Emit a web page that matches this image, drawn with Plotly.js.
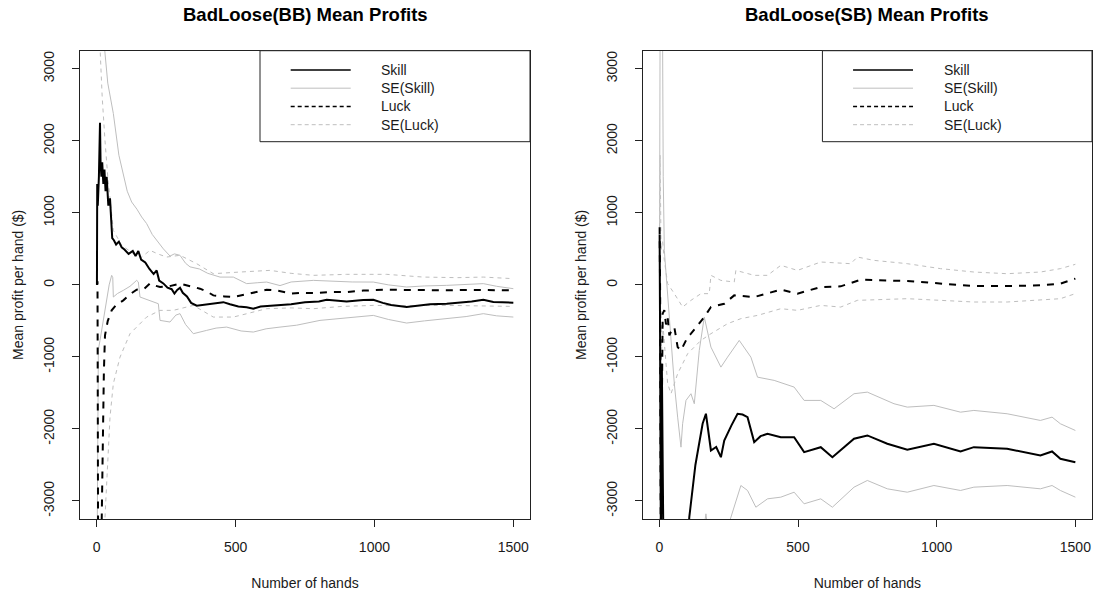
<!DOCTYPE html>
<html>
<head>
<meta charset="utf-8">
<script src="https://cdn.plot.ly/plotly-3.0.1.min.js"></script>
<style>html,body{margin:0;padding:0;background:#fff;}#chart{width:1096px;height:598px;}</style>
</head>
<body>
<div id="chart"></div>
<script>
// ---------- BadLoose(BB) ----------
var bbSkillHands = [1,2,4,8,12,14,17,20,24,28,32,36,42,48,52,56,62,70,80,90,100,115,130,140,150,160,175,190,205,216,225,240,255,270,280,290,300,310,325,340,360,380,400,430,456,480,510,540,564,590,620,660,700,750,800,828,860,900,960,996,1030,1060,1116,1150,1200,1260,1300,1350,1392,1428,1460,1500];
var bbSkill = [0,1400,1100,1500,2250,1700,1500,1700,1400,1600,1300,1500,1100,1200,800,650,620,560,600,520,490,430,470,400,470,350,310,220,150,200,60,20,-40,-60,-120,-70,-40,-110,-160,-250,-290,-280,-270,-250,-240,-270,-300,-310,-330,-300,-290,-285,-270,-240,-230,-206,-220,-230,-210,-206,-250,-280,-308,-290,-270,-261,-250,-230,-206,-238,-240,-248];

var bbSeSkillUpHands = [3,10,20,28,40,60,80,96,110,126,145,162,180,200,216,240,264,280,300,320,336,370,400,444,492,540,580,612,660,700,780,850,920,996,1050,1116,1180,1260,1330,1392,1440,1500];
var bbSeSkillUp = [5000,6000,4500,3300,2800,2378,1800,1544,1300,1150,1050,942,850,700,618,500,400,430,410,300,250,220,160,108,108,17,30,39,-10,40,62,50,40,39,0,-30,-15,-7,10,17,-20,-53];

var bbSeSkillLoHands = [2,6,12,18,30,45,54,58,60,75,96,120,144,150,156,192,222,228,264,285,300,320,348,396,430,468,520,564,610,660,720,804,900,996,1050,1116,1180,1260,1330,1392,1440,1500];
var bbSeSkillLo = [-3500,-900,-771,-632,-300,0,132,100,-169,-120,-76,-20,62,40,-169,-215,-262,-493,-516,-420,-400,-550,-678,-632,-600,-586,-640,-655,-610,-586,-560,-493,-460,-424,-480,-530,-500,-470,-440,-400,-430,-447];

var bbLuckHands = [1,3,5,10,18,22,26,30,40,54,70,96,120,144,170,192,200,228,260,300,330,372,400,420,460,492,540,580,612,650,700,740,780,840,900,960,1044,1100,1200,1260,1350,1420,1500];
var bbLuck = [0,50,-3400,-4500,-3300,-2000,-1200,-700,-500,-354,-280,-215,-130,-67,-60,20,0,-30,-20,17,-10,-53,-100,-146,-160,-169,-130,-90,-67,-80,-120,-110,-114,-100,-100,-80,-67,-70,-80,-76,-70,-75,-76];

var bbSeLuckUpHands = [3,8,12,20,30,40,60,90,132,160,192,220,252,300,360,420,516,624,700,780,900,1044,1176,1300,1392,1500];
var bbSeLuckUp = [4000,5000,3300,2600,2000,1500,757,550,433,380,479,430,386,410,294,155,178,201,160,132,146,146,108,100,108,86];

var bbSeLuckLoHands = [3,10,20,30,48,60,84,120,180,228,276,348,420,492,612,700,780,880,996,1100,1260,1400,1500];
var bbSeLuckLo = [-6000,-8000,-5000,-3225,-1836,-1372,-1003,-678,-447,-354,-354,-285,-447,-447,-331,-320,-331,-300,-285,-290,-285,-290,-299];

// ---------- BadLoose(SB) ----------
var sbSkillHands = [1,3,6,9,12,16,20,40,80,108,130,156,168,186,205,222,234,260,282,300,318,342,365,390,438,486,522,582,624,702,750,822,894,990,1086,1134,1254,1374,1416,1446,1500];
var sbSkill = [700,-500,-3500,-1095,-2000,-5000,-6000,-6500,-5000,-3225,-2500,-1928,-1789,-2299,-2250,-2392,-2160,-1950,-1789,-1800,-1836,-2183,-2100,-2067,-2114,-2114,-2322,-2253,-2392,-2136,-2090,-2206,-2289,-2206,-2313,-2253,-2275,-2368,-2313,-2414,-2461];

var sbSeSkillUpHands = [1,2,4,6,8,11,14,18,30,54,66,78,84,96,114,126,144,162,186,222,246,288,330,354,414,486,522,582,630,702,750,846,894,990,1086,1134,1254,1374,1416,1446,1500];
var sbSeSkillUp = [800,8000,6000,9000,7000,4000,1500,479,-122,-1372,-1836,-2253,-1928,-1604,-1511,-1650,-910,-447,-864,-1142,-1003,-771,-1003,-1281,-1326,-1419,-1604,-1604,-1720,-1511,-1489,-1650,-1697,-1673,-1767,-1743,-1789,-1882,-1836,-1928,-2021];

var sbSeSkillLoHands = [1,3,8,30,100,160,168,175,240,252,294,318,348,390,438,486,522,582,624,702,750,822,894,990,1086,1134,1254,1374,1416,1446,1500];
var sbSeSkillLo = [600,-9000,-8000,-7000,-4200,-3400,-3178,-3400,-3500,-3300,-2785,-2854,-3086,-2970,-2947,-2878,-3039,-2970,-3086,-2808,-2715,-2831,-2878,-2785,-2854,-2808,-2785,-2831,-2785,-2854,-2947];

var sbLuckHands = [1,3,5,8,12,18,24,30,36,42,54,66,78,102,114,162,186,234,270,342,438,498,582,654,726,894,1014,1134,1254,1374,1446,1500];
var sbLuck = [800,-200,-3500,-1500,-400,-350,-550,-450,-700,-650,-586,-864,-910,-725,-678,-447,-308,-262,-146,-169,-67,-122,-30,-21,72,53,17,-16,-16,-7,17,86];

var sbSeLuckUpHands = [1,3,6,12,18,30,54,84,114,150,180,186,222,270,276,342,390,438,498,582,690,714,774,894,1014,1134,1254,1374,1446,1500];
var sbSeLuckUp = [800,1800,479,600,340,17,-122,-308,-215,-122,-122,132,62,39,201,132,132,271,201,317,294,386,340,294,225,178,155,178,225,285];

var sbSeLuckLoHands = [1,3,6,12,20,30,42,66,102,150,186,246,294,354,438,498,582,654,714,894,1014,1134,1254,1374,1446,1500];
var sbSeLuckLo = [800,-2500,-1200,-500,-900,-1372,-1511,-1233,-956,-771,-678,-539,-469,-424,-331,-354,-285,-308,-215,-192,-215,-238,-238,-215,-192,-122];

var xTicks = [0, 500, 1000, 1500];
var yTicks = [-3000, -2000, -1000, 0, 1000, 2000, 3000];
var legendLabels = ['Skill', 'SE(Skill)', 'Luck', 'SE(Luck)'];
var panelTitles = ['BadLoose(BB) Mean Profits', 'BadLoose(SB) Mean Profits'];

var GRAY = '#bebebe';
var styles = {
  skill:  {color: '#000', width: 2, dash: 'solid'},
  seSkill:{color: GRAY, width: 1, dash: 'solid'},
  luck:   {color: '#000', width: 2, dash: '7px,7px'},
  seLuck: {color: GRAY, width: 1, dash: '4px,4px'}
};

function tr(x, y, st, xa, ya) {
  return {x: x, y: y, type: 'scatter', mode: 'lines', xaxis: xa, yaxis: ya,
          line: {color: st.color, width: st.width, dash: st.dash}, hoverinfo: 'skip', showlegend: false};
}

var data = [
  tr(bbSeSkillUpHands, bbSeSkillUp, styles.seSkill, 'x', 'y'),
  tr(bbSeSkillLoHands, bbSeSkillLo, styles.seSkill, 'x', 'y'),
  tr(bbSeLuckUpHands, bbSeLuckUp, styles.seLuck, 'x', 'y'),
  tr(bbSeLuckLoHands, bbSeLuckLo, styles.seLuck, 'x', 'y'),
  tr(bbLuckHands, bbLuck, styles.luck, 'x', 'y'),
  tr(bbSkillHands, bbSkill, styles.skill, 'x', 'y'),
  tr(sbSeSkillUpHands, sbSeSkillUp, styles.seSkill, 'x2', 'y2'),
  tr(sbSeSkillLoHands, sbSeSkillLo, styles.seSkill, 'x2', 'y2'),
  tr(sbSeLuckUpHands, sbSeLuckUp, styles.seLuck, 'x2', 'y2'),
  tr(sbSeLuckLoHands, sbSeLuckLo, styles.seLuck, 'x2', 'y2'),
  tr(sbLuckHands, sbLuck, styles.luck, 'x2', 'y2'),
  tr(sbSkillHands, sbSkill, styles.skill, 'x2', 'y2')
];

var FONT = 'Liberation Sans, Arial, sans-serif';
var TXT = '#1a1a1a';
var LINE = '#222';

function xax(dom) {
  return {domain: dom, range: [-60, 1560], tickmode: 'array', tickvals: xTicks, ticktext: xTicks.map(String),
    ticks: 'outside', ticklen: 7, tickcolor: LINE, showline: true, mirror: true, linecolor: LINE, linewidth: 1,
    showgrid: false, zeroline: false, ticklabelstandoff: 8,
    tickfont: {family: FONT, size: 14, color: TXT},
    title: {text: 'Number of hands', font: {family: FONT, size: 14, color: TXT}, standoff: 24}};
}
function yax(anchor) {
  return {domain: [0.1321, 0.9152], anchor: anchor, range: [-3250, 3250], tickmode: 'array', tickvals: yTicks,
    ticktext: yTicks.map(String), tickangle: -90,
    ticks: 'outside', ticklen: 7, tickcolor: LINE, showline: true, mirror: true, linecolor: LINE, linewidth: 1,
    showgrid: false, zeroline: false, ticklabelstandoff: 12,
    tickfont: {family: FONT, size: 14, color: TXT},
    title: {text: 'Mean profit per hand ($)', font: {family: FONT, size: 14, color: TXT}, standoff: 14}};
}

var shapes = [], annotations = [];
['x', 'x2'].forEach(function (xa, p) {
  var xr = xa + ' domain', yr = (p === 0 ? 'y' : 'y2') + ' domain';
  shapes.push({type: 'rect', xref: xr, yref: yr, x0: 0.4, x1: 1, y0: 0.8057, y1: 1,
    line: {color: LINE, width: 1}, fillcolor: 'rgba(255,255,255,1)', layer: 'above'});
  var rows = [0.9590, 0.9200, 0.8810, 0.8420];
  var st = [styles.skill, styles.seSkill, styles.luck, styles.seLuck];
  for (var i = 0; i < 4; i++) {
    shapes.push({type: 'line', xref: xr, yref: yr, x0: 0.4682, x1: 0.6016, y0: rows[i], y1: rows[i],
      line: {color: st[i].color, width: st[i].width === 2 ? 1.5 : 1, dash: i >= 2 ? '4px,3px' : 'solid'}, layer: 'above'});
    annotations.push({xref: xr, yref: yr, x: 0.6651, y: rows[i], xanchor: 'left', yanchor: 'middle',
      text: legendLabels[i], showarrow: false, font: {family: FONT, size: 14, color: TXT}});
  }
  annotations.push({xref: xr, yref: 'paper', x: 0.5, y: 1 - 15 / 598, xanchor: 'center', yanchor: 'middle',
    text: '<b>' + panelTitles[p] + '</b>', showarrow: false, font: {family: FONT, size: 18.5, color: '#000'}});
});

var layout = {
  width: 1096, height: 598, margin: {l: 0, r: 0, t: 0, b: 0},
  paper_bgcolor: '#fff', plot_bgcolor: '#fff', showlegend: false,
  xaxis: xax([80 / 1096, 530 / 1096]),
  yaxis: yax('x'),
  xaxis2: Object.assign(xax([642.7 / 1096, 1092 / 1096]), {anchor: 'y2'}),
  yaxis2: yax('x2'),
  shapes: shapes, annotations: annotations
};
layout.xaxis.anchor = 'y';

Plotly.newPlot('chart', data, layout, {staticPlot: true, displayModeBar: false});
</script>
</body>
</html>
